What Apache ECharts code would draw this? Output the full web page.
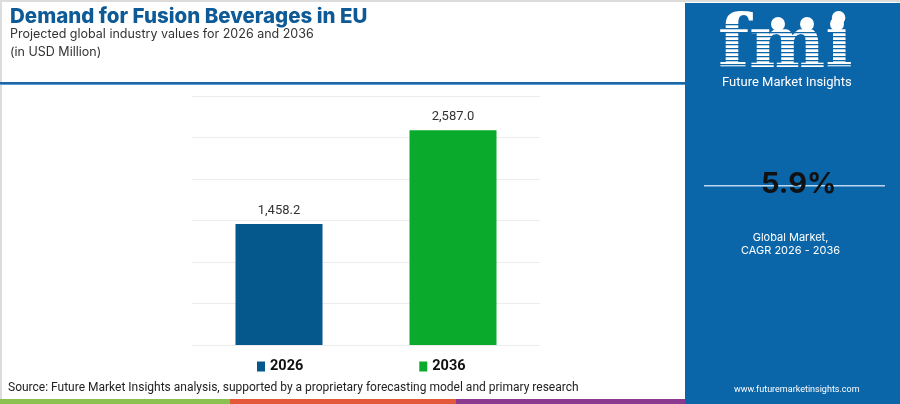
<!DOCTYPE html>
<html><head><meta charset="utf-8">
<script src="https://cdn.jsdelivr.net/npm/echarts@6/dist/echarts.min.js"></script>
<style>html,body{margin:0;padding:0;background:#fff}#c{width:900px;height:404px}</style>
</head><body><div id="c"></div>
<script>
const categories = ['2026', '2036'];
const seriesNames = ['2026', '2036'];
const values2026 = [1458.2, '-'];
const values2036 = ['-', 2587.0];
const yTicks = [0, 500, 1000, 1500, 2000, 2500, 3000];

const FONT = 'Inter, "Open Sans", sans-serif';
const RFONT = 'Roboto, "Open Sans", sans-serif';
const PANEL = '#0b65a9';
function fmt(v){
  const s = Number(v).toFixed(1).split('.');
  return s[0].replace(/\B(?=(\d{3})+(?!\d))/g, ',') + '.' + s[1];
}
const chart = echarts.init(document.getElementById('c'), null, {renderer:'canvas'});
const stripes = [];
for (let y = 24; y < 76; y += 4) {
  stripes.push({type:'rect', z:102, shape:{x:715, y:y, width:160, height:1.3}, style:{fill:PANEL}});
}
chart.setOption({
  animation:false,
  grid:{left:192, right:360, top:96, bottom:59},
  xAxis:{type:'category', data:categories, axisLine:{show:false}, axisTick:{show:false}, axisLabel:{show:false}},
  yAxis:{type:'value', min:yTicks[0], max:yTicks[yTicks.length-1], interval:500,
    axisLabel:{show:false}, axisLine:{show:false}, axisTick:{show:false},
    splitLine:{lineStyle:{color:'#ececec', width:1}}},
  legend:{left:252, top:354, itemGap:116, itemWidth:8, itemHeight:10, icon:'rect',
    data:seriesNames,
    textStyle:{fontFamily:RFONT, fontSize:14.5, fontWeight:'bold', color:'#111'}},
  series:[
    {name:seriesNames[0], type:'bar', stack:'s', barWidth:'50%', data:values2026,
     itemStyle:{color:'#04588c'},
     label:{show:true, position:'top', distance:7, formatter:p=>fmt(p.value), fontFamily:RFONT, fontSize:13, color:'#333'}},
    {name:seriesNames[1], type:'bar', stack:'s', barWidth:'50%', data:values2036,
     itemStyle:{color:'#0aab2c'},
     label:{show:true, position:'top', distance:7, formatter:p=>fmt(p.value), fontFamily:RFONT, fontSize:13, color:'#333'}}
  ],
  graphic:[
    {type:'rect', z:0, shape:{x:0, y:0, width:900, height:2}, style:{fill:'#dcdcdc'}},
    {type:'rect', z:0, shape:{x:0, y:0, width:2, height:404}, style:{fill:'#dcdcdc'}},
    {type:'text', z:100, left:10, top:6, style:{text:'Demand for Fusion Beverages in EU', font:'800 20.5px '+FONT, fill:'#0d5a96'}},
    {type:'text', z:100, left:10, top:28, style:{text:'Projected global industry values for 2026 and 2036', font:'12.5px '+FONT, fill:'#333'}},
    {type:'text', z:100, left:10, top:46, style:{text:'(in USD Million)', font:'12.5px '+FONT, fill:'#333'}},
    {type:'rect', z:100, shape:{x:0, y:82, width:686, height:2}, style:{fill:'#1b67a8'}},
    {type:'rect', z:100, shape:{x:0, y:84, width:686, height:1}, style:{fill:'#5b9bd0'}},
    {type:'text', z:100, left:8, top:382, style:{text:'Source: Future Market Insights analysis, supported by a proprietary forecasting model and primary research', font:'12px '+RFONT, fill:'#222'}},
    {type:'rect', z:100, shape:{x:0, y:399, width:230, height:5}, style:{fill:'#8cc152'}},
    {type:'rect', z:100, shape:{x:230, y:399, width:226, height:5}, style:{fill:'#e4593a'}},
    {type:'rect', z:100, shape:{x:456, y:399, width:230, height:5}, style:{fill:'#8a3a8f'}},
    {type:'rect', z:100, shape:{x:685, y:3, width:215, height:401}, style:{fill:PANEL}},
    {type:'text', z:101, left:718, top:12, style:{text:'fmi', font:'bold 72px "DejaVu Serif", serif', fill:'#ffffff'}},
    ...stripes,
    {type:'circle', z:103, shape:{cx:778, cy:24, r:7}, style:{fill:'#ffffff'}},
    {type:'circle', z:103, shape:{cx:807, cy:24, r:7}, style:{fill:'#ffffff'}},
    {type:'circle', z:103, shape:{cx:837, cy:24, r:7}, style:{fill:'#ffffff'}},
    {type:'text', z:103, left:722, top:76, style:{text:'Future Market Insights', font:'13px '+RFONT, fill:'#ffffff'}},
    {type:'rect', z:101, shape:{x:704, y:185, width:181, height:1.5}, style:{fill:'#bcd6ee'}},
    {type:'text', z:102, top:170, left:761, style:{text:'5.9%', font:'bold 29px '+FONT, fill:'#111'}},
    {type:'text', z:102, top:231, left:741, style:{text:'Global Market,\nCAGR 2026 - 2036', font:'11px '+FONT, fill:'#ffffff', textAlign:'center', lineHeight:13}},
    {type:'text', z:102, top:385, left:734, style:{text:'www.futuremarketinsights.com', font:'9px '+RFONT, fill:'#ffffff'}}
  ]
});
</script></body></html>
